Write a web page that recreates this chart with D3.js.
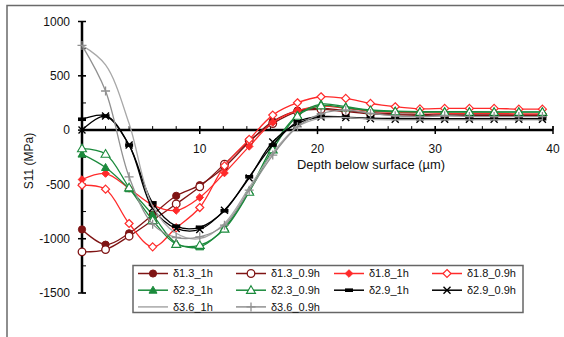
<!DOCTYPE html>
<html><head><meta charset="utf-8">
<script src="https://cdn.jsdelivr.net/npm/d3@7"></script>
<style>
html,body{margin:0;padding:0;background:#fff;}
svg{display:block;font-family:"Liberation Sans",Arial,sans-serif;}
</style></head>
<body>
<svg id="chart" width="564" height="337"></svg>
<script>
// ---- data ----
const depth = [0, 2, 4, 6, 8, 10, 12.1, 14.2, 16.2, 18.3, 20.3, 22.4, 24.5, 26.6, 28.7, 30.8, 32.9, 35.0, 37.1, 39.1];
const seriesNames = ["δ1.3_1h","δ1.3_0.9h","δ1.8_1h","δ1.8_0.9h","δ2.3_1h","δ2.3_0.9h","δ2.9_1h","δ2.9_0.9h","δ3.6_1h","δ3.6_0.9h"];
const d13_1h  = [-915,-1055,-950,-780,-605,-507,-340,-110,80,180,200,180,160,150,145,140,140,140,140,140];
const d13_09h = [-1121,-1100,-977,-830,-680,-522,-313,-100,60,170,190,170,150,140,135,135,135,135,135,135];
const d18_1h  = [-455,-400,-537,-690,-740,-620,-395,-150,70,180,220,200,175,165,160,155,155,155,150,150];
const d18_09h = [-507,-544,-860,-1075,-900,-713,-330,-86,138,252,307,292,246,215,195,200,200,200,193,193];
const d23_1h  = [-221,-344,-540,-780,-1040,-1075,-900,-560,-150,138,240,215,185,175,170,170,170,168,168,168];
const d23_09h = [-170,-220,-530,-830,-1050,-1060,-910,-570,-180,130,225,205,180,170,165,165,165,165,165,165];
const d29_1h  = [100,130,-138,-670,-885,-895,-743,-430,-138,77,125,120,110,108,105,105,105,105,105,105];
const d29_09h = [0,130,-138,-720,-905,-915,-737,-440,-110,62,120,115,105,100,100,100,100,100,100,100];
const d36_1h  = [780,600,60,-700,-950,-1000,-860,-530,-210,30,110,115,100,95,95,95,95,95,95,95];
const d36_09h = [780,360,-430,-866,-989,-983,-875,-553,-230,30,150,184,154,132,123,132,125,125,125,125];
const xTicks = [10,20,30,40];
const yTicks = [-1500,-1000,-500,0,500,1000];

const allValues = [d13_1h,d13_09h,d18_1h,d18_09h,d23_1h,d23_09h,d29_1h,d29_09h,d36_1h,d36_09h];
const colors  = ["#7f1414","#7f1414","#ff2a2a","#ff2a2a","#1b8a3c","#1b8a3c","#000000","#000000","#a8a8a8","#909090"];
const markers = ["circleF","circleO","diamondF","diamondO","triF","triO","dash","x","none","plus"];

const svg = d3.select("#chart");
const x = d3.scaleLinear().domain([0,40]).range([82,553]);
const y = d3.scaleLinear().domain([-1500,1000]).range([293,21.5]);

// outer frame (left & top)
svg.append("path").attr("d","M7,337V5.5H564").attr("fill","none").attr("stroke","#6a6a6a").attr("stroke-width",1.5);

// y axis
const yAxisG = svg.append("g").attr("transform",`translate(${x(0)},0)`);
yAxisG.append("line").attr("y1",y(1000)).attr("y2",y(-1500)).attr("stroke","#000").attr("stroke-width",2.5);
yAxisG.selectAll(".minor").data(d3.range(-1500,1001,250)).enter().append("line")
  .attr("x1",0).attr("x2",4).attr("y1",d=>y(d)).attr("y2",d=>y(d)).attr("stroke","#000").attr("stroke-width",1);
yAxisG.selectAll(".major").data(yTicks).enter().append("line")
  .attr("x1",-4).attr("x2",4).attr("y1",d=>y(d)).attr("y2",d=>y(d)).attr("stroke","#000").attr("stroke-width",1.5);
yAxisG.selectAll(".lbl").data(yTicks).enter().append("text")
  .attr("x",-12).attr("y",d=>y(d)).attr("dy","0.35em").attr("text-anchor","end")
  .attr("font-size",12).attr("fill","#111").text(d=>d);

// x axis
const xAxisG = svg.append("g").attr("transform",`translate(0,${y(0)})`);
xAxisG.append("line").attr("x1",x(0)).attr("x2",x(40)).attr("stroke","#000").attr("stroke-width",2.5);
xAxisG.selectAll(".minor").data(d3.range(0,41,2)).enter().append("line")
  .attr("x1",d=>x(d)).attr("x2",d=>x(d)).attr("y1",0).attr("y2",-4).attr("stroke","#000").attr("stroke-width",1);
xAxisG.selectAll(".major").data(xTicks).enter().append("line")
  .attr("x1",d=>x(d)).attr("x2",d=>x(d)).attr("y1",-4).attr("y2",4).attr("stroke","#000").attr("stroke-width",1.5);
xAxisG.selectAll(".lbl").data(xTicks).enter().append("text")
  .attr("x",d=>x(d)).attr("y",23).attr("text-anchor","middle")
  .attr("font-size",12).attr("fill","#111").text(d=>d);

// axis titles
svg.append("text").attr("x",297).attr("y",169).attr("font-size",12.5).attr("fill","#111")
  .attr("textLength",148).attr("lengthAdjust","spacingAndGlyphs").text("Depth below surface (µm)");
svg.append("text").attr("transform","translate(33,161) rotate(-90)").attr("text-anchor","middle")
  .attr("font-size",12).attr("fill","#111").text("S11 (MPa)");

// marker drawing
function drawMarker(g, type, color, cx, cy){
  switch(type){
    case "circleF": g.append("circle").attr("cx",cx).attr("cy",cy).attr("r",3.6).attr("fill",color).attr("stroke",color); break;
    case "circleO": g.append("circle").attr("cx",cx).attr("cy",cy).attr("r",3.8).attr("fill","#fff").attr("stroke",color).attr("stroke-width",1.3); break;
    case "diamondF": g.append("path").attr("d",`M${cx},${cy-3.8}L${cx+3.8},${cy}L${cx},${cy+3.8}L${cx-3.8},${cy}Z`).attr("fill",color).attr("stroke",color); break;
    case "diamondO": g.append("path").attr("d",`M${cx},${cy-4}L${cx+4},${cy}L${cx},${cy+4}L${cx-4},${cy}Z`).attr("fill","#fff").attr("stroke",color).attr("stroke-width",1.2); break;
    case "triF": g.append("path").attr("d",`M${cx},${cy-4}L${cx+4},${cy+3}L${cx-4},${cy+3}Z`).attr("fill",color).attr("stroke",color); break;
    case "triO": g.append("path").attr("d",`M${cx},${cy-4.5}L${cx+4.5},${cy+3.2}L${cx-4.5},${cy+3.2}Z`).attr("fill","#fff").attr("stroke",color).attr("stroke-width",1.1); break;
    case "dash": g.append("rect").attr("x",cx-4).attr("y",cy-1.8).attr("width",8).attr("height",3.6).attr("fill",color); break;
    case "x": g.append("path").attr("d",`M${cx-3.5},${cy-3.5}L${cx+3.5},${cy+3.5}M${cx+3.5},${cy-3.5}L${cx-3.5},${cy+3.5}`).attr("stroke",color).attr("stroke-width",1.4); break;
    case "plus": g.append("path").attr("d",`M${cx-4.5},${cy}H${cx+4.5}M${cx},${cy-4.5}V${cy+4.5}`).attr("stroke",color).attr("stroke-width",1.3); break;
  }
}

const line = d3.line().x(d=>x(d[0])).y(d=>y(d[1])).curve(d3.curveCatmullRom.alpha(0.5));
const plot = svg.append("g");
allValues.forEach((vals,i)=>{
  const pts = depth.map((d,j)=>[d,vals[j]]);
  const g = plot.append("g");
  g.append("path").attr("d",line(pts)).attr("fill","none").attr("stroke",colors[i]).attr("stroke-width",1.3);
  pts.forEach(p=>drawMarker(g,markers[i],colors[i],x(p[0]),y(p[1])));
});

// legend
const leg = svg.append("g");
leg.append("rect").attr("x",133).attr("y",265.5).attr("width",390).attr("height",47)
  .attr("fill","#fff").attr("stroke","#666").attr("stroke-width",1.5);
seriesNames.forEach((name,i)=>{
  const col = i%4, row = Math.floor(i/4);
  const lx = 138 + col*98, ly = 273.5 + row*16.7;
  const g = leg.append("g");
  g.append("line").attr("x1",lx).attr("x2",lx+30).attr("y1",ly).attr("y2",ly).attr("stroke",colors[i]).attr("stroke-width",1.5);
  drawMarker(g,markers[i],colors[i],lx+15,ly);
  g.append("text").attr("x",lx+35).attr("y",ly).attr("dy","0.35em").attr("font-size",11).attr("fill","#111").text(name);
});
</script>
</body></html>
